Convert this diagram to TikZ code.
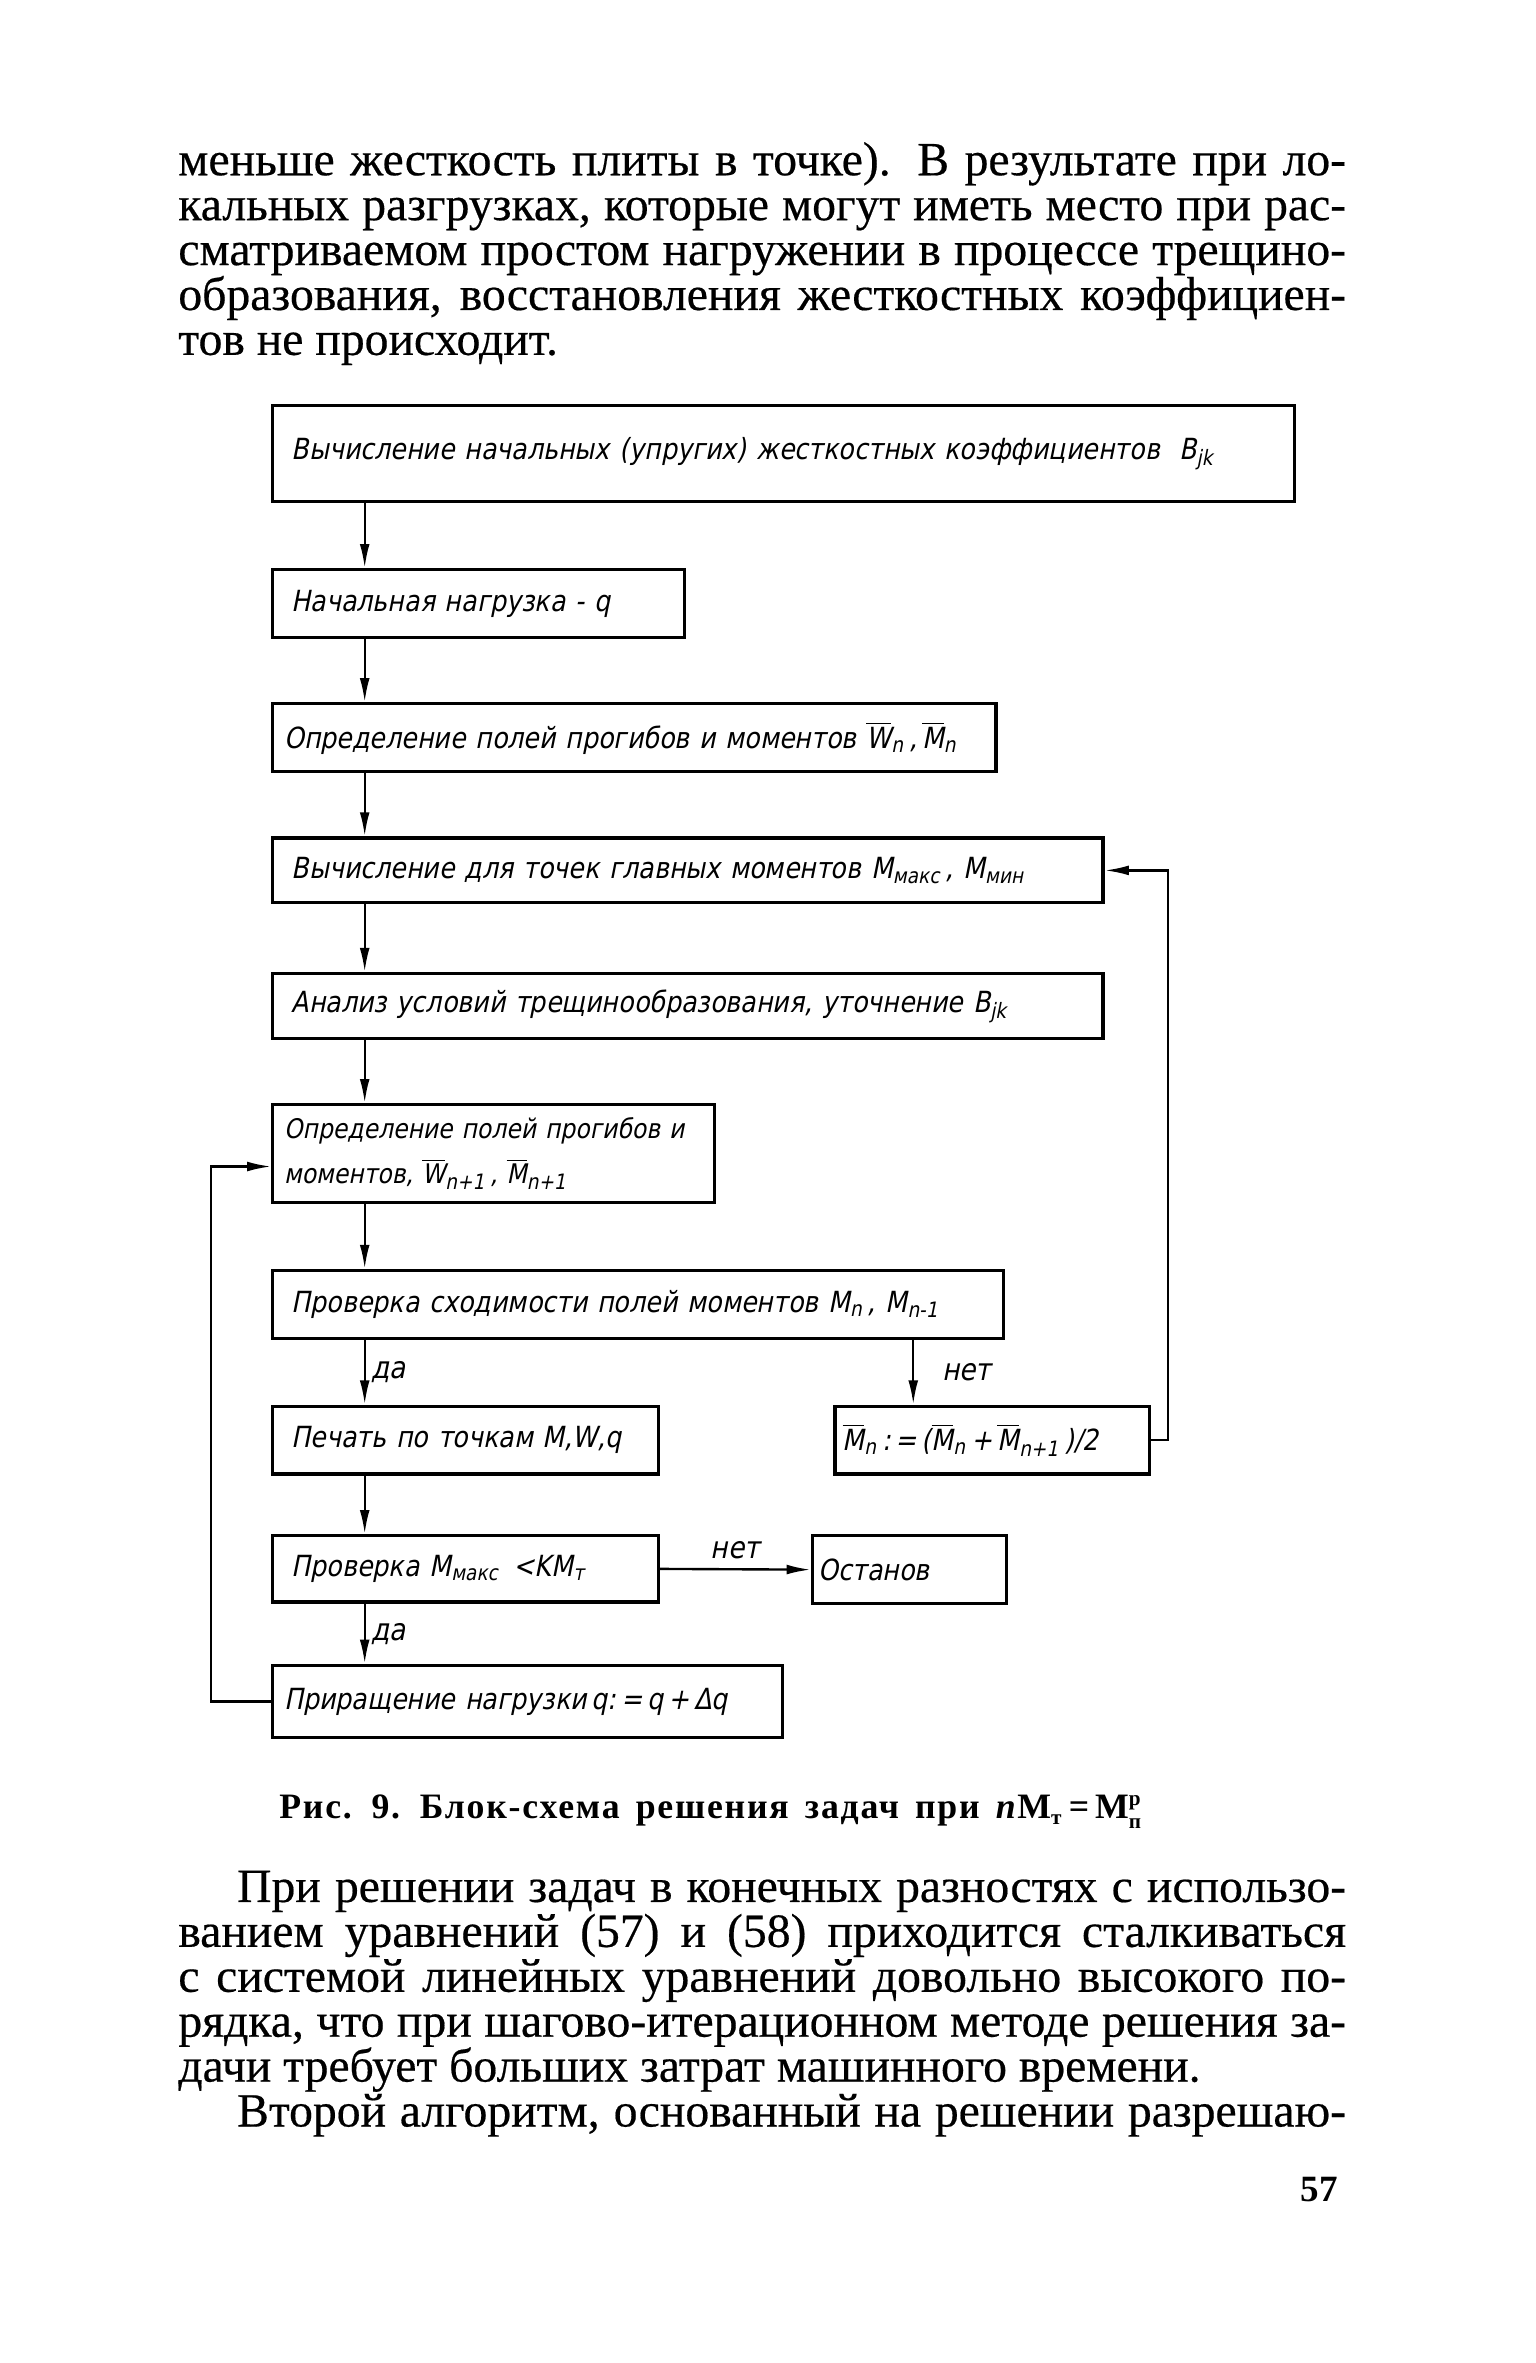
\documentclass[tikz,border=0pt]{standalone}
\usepackage{fontspec}
\setmainfont{Liberation Serif}
\newfontfamily\bodyfont[FakeStretch=1.0,FakeBold=0.4]{Liberation Serif}
\newfontfamily\capfont[LetterSpace=5,WordSpace=1.5]{Liberation Serif}
\newfontfamily\drawfont[FakeStretch=0.87,FakeSlant=0.2,WordSpace=1.6]{DejaVu Sans}
\usetikzlibrary{arrows.meta, positioning, calc}
\setlength{\lineskiplimit}{-20pt}
% indices and bars for the block texts
\newcommand{\lowidx}[1]{$_{\mbox{\fontsize{8}{9}\selectfont #1}}$}
\newcommand{\supsub}[2]{$^{\mbox{\fontsize{8}{9}\selectfont #1}}_{\mbox{\fontsize{8}{9}\selectfont #2}}$}
\newcommand{\barred}[1]{$\overline{\mbox{#1}}$}
\newcommand{\fullline}[1]{\makebox[15.5cm][s]{#1}}
\newcommand{\indline}[1]{\hspace*{0.78cm}\makebox[14.72cm][s]{#1}}

\begin{document}
\begin{tikzpicture}[
  x=0.02cm, y=-0.02cm,
  blk/.style={rectangle, draw, line width=1.2pt, anchor=north west, inner xsep=0.25cm,
              inner ysep=0pt, align=left, font=\drawfont\fontsize{11}{17}\selectfont},
  arr/.style={-{Latex[length=0.32cm, width=0.13cm]}, line width=0.9pt},
  lbl/.style={font=\drawfont\fontsize{11.5}{13}\selectfont, inner sep=2pt},
  para/.style={anchor=north west, inner sep=0pt, align=left,
               font=\bodyfont\fontsize{18}{16.96}\selectfont}
]
\useasboundingbox[fill=white] (0,0) rectangle (1019,1568);

% text above the figure
\node[para] (top) at (118,94) {%
\fullline{меньше жесткость плиты в точке). В результате при ло-}\\
\fullline{кальных разгрузках, которые могут иметь место при рас-}\\
\fullline{сматриваемом простом нагружении в процессе трещино-}\\
\fullline{образования, восстановления жесткостных коэффициен-}\\
тов не происходит.};

% blocks
\node[blk, text width=13.06cm, minimum height=1.28cm] (init) at (180,268)
  {Вычисление начальных (упругих) жесткостных коэффициентов~ B\lowidx{jk}};
\node[blk, text width=4.96cm, minimum height=0.9cm] (load) at (180,377)
  {Начальная нагрузка - q};
\node[blk, inner xsep=0.15cm, text width=9.3cm, minimum height=0.9cm] (field) at (180,466)
  {Определение полей прогибов и моментов \barred{W}\lowidx{n}\,,\,\barred{M}\lowidx{n}};
\node[blk, text width=10.52cm, minimum height=0.86cm] (princ) at (180,555)
  {Вычисление для точек главных моментов M\lowidx{макс}\,, M\lowidx{мин}};
\node[blk, text width=10.52cm, minimum height=0.86cm] (crack) at (180,645)
  {Анализ условий трещинообразования, уточнение B\lowidx{jk}};
\node[blk, inner xsep=0.15cm, text width=5.56cm, minimum height=1.3cm,
      font=\drawfont\fontsize{10.2}{17}\selectfont] (next) at (180,732)
  {Определение полей прогибов и\\моментов, \barred{W}\lowidx{n+1}\,, \barred{M}\lowidx{n+1}};
\node[blk, text width=9.2cm, minimum height=0.9cm] (conv) at (180,842)
  {Проверка сходимости полей моментов M\lowidx{n}\,, M\lowidx{n-1}};
\node[blk, text width=4.62cm, minimum height=0.9cm] (print) at (180,932)
  {Печать по точкам M,W,q};
\node[blk, inner xsep=0.1cm, text width=3.98cm, minimum height=0.9cm] (avg) at (553,932)
  {\barred{M}\lowidx{n}\,:\,=\,(\barred{M}\lowidx{n}\,+\,\barred{M}\lowidx{n+1}\,)/2};
\node[blk, text width=4.62cm, minimum height=0.88cm] (check) at (180,1018)
  {Проверка M\lowidx{макс}\, <KM\lowidx{т}};
\node[blk, inner xsep=0.08cm, text width=2.42cm, minimum height=0.9cm] (stop) at (538,1018)
  {Останов};
\node[blk, inner xsep=0.15cm, text width=6.46cm, minimum height=0.96cm] (incr) at (180,1104)
  {Приращение нагрузки\,q:\,=\,q\,+\,Δq};

% lines of the connectors
\coordinate (spine) at (242,0);
\coordinate (nobr) at (606,0);
\coordinate (rloop) at (775,0);
\coordinate (lloop) at (140,0);

\draw[arr] (init.south -| spine) -- (load.north -| spine);
\draw[arr] (load.south -| spine) -- (field.north -| spine);
\draw[arr] (field.south -| spine) -- (princ.north -| spine);
\draw[arr] (princ.south -| spine) -- (crack.north -| spine);
\draw[arr] (crack.south -| spine) -- (next.north -| spine);
\draw[arr] (next.south -| spine) -- (conv.north -| spine);
\draw[arr] (conv.south -| spine) -- (print.north -| spine)
  node[lbl, midway, right] {да};
\draw[arr] (conv.south -| nobr) -- (avg.north -| nobr)
  node[lbl, midway, right, xshift=0.3cm] {нет};
\draw[arr] (print.south -| spine) -- (check.north -| spine);
\draw[arr] (check.east) -- (stop.west)
  node[lbl, midway, above, yshift=0.05cm] {нет};
\draw[arr] (check.south -| spine) -- (incr.north -| spine)
  node[lbl, midway, right] {да};
\draw[arr] (avg.east) -- (avg.east -| rloop) -- (princ.east -| rloop) -- (princ.east);
\draw[arr] (incr.west) -- (incr.west -| lloop)
  -- ([yshift=-0.17cm]next.west -| lloop) -- ([yshift=-0.17cm]next.west);

% caption and text below
\node[anchor=base west, inner sep=0pt, font=\capfont\bfseries\fontsize{13.5}{15}\selectfont] (cap)
  at (185,1207) {Рис. 9. Блок-схема решения задач при \textit{n}M\lowidx{т}\,=\,M\supsub{р}{п}};
\node[para] (bottom) at (118,1241) {%
\indline{При решении задач в конечных разностях с использо-}\\
\fullline{ванием уравнений (57) и (58) приходится сталкиваться}\\
\fullline{с системой линейных уравнений довольно высокого по-}\\
\fullline{рядка, что при шагово-итерационном методе решения за-}\\
дачи требует больших затрат машинного времени.\\
\indline{Второй алгоритм, основанный на решении разрешаю-}};
\node[anchor=base east, inner sep=0pt, font=\bfseries\fontsize{14}{16}\selectfont] (page)
  at (888,1461) {57};
\end{tikzpicture}
\end{document}
